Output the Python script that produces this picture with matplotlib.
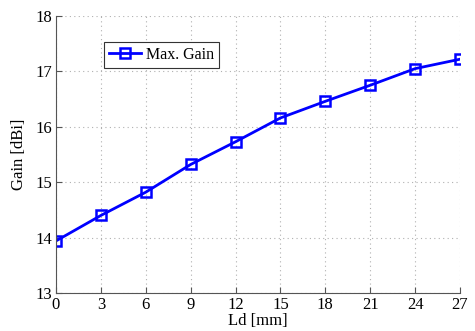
import matplotlib
matplotlib.use("Agg")
import matplotlib.pyplot as plt

# Data
ld = [0, 3, 6, 9, 12, 15, 18, 21, 24, 27]
gain = [13.94, 14.40, 14.82, 15.32, 15.73, 16.16, 16.46, 16.75, 17.05, 17.22]
xticks = [0, 3, 6, 9, 12, 15, 18, 21, 24, 27]
yticks = [13, 14, 15, 16, 17, 18]

plt.rcParams['font.family'] = ['Liberation Serif', 'DejaVu Serif']
plt.rcParams['font.size'] = 11

fig = plt.figure(figsize=(4.75, 3.31), dpi=100)
ax = fig.add_axes([56 / 475, 1 - 293 / 331, 404 / 475, 277 / 331])

ax.plot(ld, gain, color='#0000ff', linewidth=2, marker='s', markersize=7,
        markerfacecolor='none', markeredgecolor='#0000ff', markeredgewidth=1.8,
        label='Max. Gain')

ax.set_xlim(0, 27)
ax.set_ylim(13, 18)
ax.set_xticks(xticks)
ax.set_yticks(yticks)
ax.grid(True, linestyle=(0, (1, 3)), color='#b0b0b0', linewidth=0.8)

for s in ['top', 'right']:
    ax.spines[s].set_visible(False)
for s in ['left', 'bottom']:
    ax.spines[s].set_color('#555555')
ax.tick_params(direction='in', length=4, color='#555555', labelsize=12, pad=3)

ax.set_xlabel('Ld [mm]', fontsize=12, labelpad=0)
ax.set_ylabel('Gain [dBi]', fontsize=12, labelpad=6)

leg = ax.legend(loc='upper left', bbox_to_anchor=(0.119, 0.906), fancybox=False,
                edgecolor='#333333', framealpha=1, fontsize=11.5,
                borderaxespad=0, handlelength=2.0, borderpad=0.3, handletextpad=0.3)
leg.get_frame().set_linewidth(0.8)

fig.savefig('out.png', dpi=100)
